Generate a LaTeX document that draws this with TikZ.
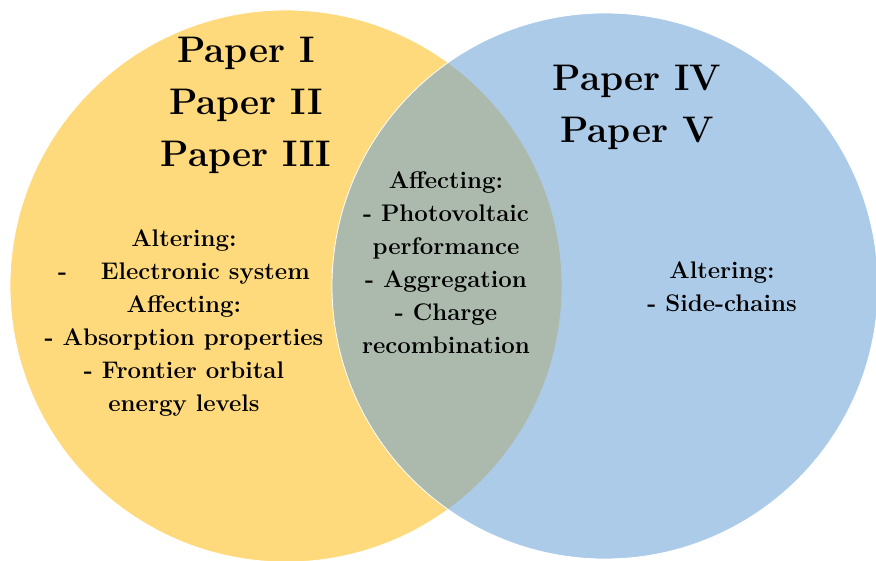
\documentclass[tikz,border=0pt]{standalone}
\usetikzlibrary{positioning}

\definecolor{paperyellow}{RGB}{255,218,125}
\definecolor{paperblue}{RGB}{104,160,213}

\begin{document}
\begin{tikzpicture}[x=1pt,y=-1pt,
    set/.style={circle,inner sep=0pt,minimum size=#1,draw=white,line width=0.8pt},
    title/.style={font=\bfseries\fontsize{37}{52}\selectfont,align=center,inner sep=0pt},
    body/.style={font=\bfseries\fontsize{24}{33}\selectfont,align=center,inner sep=0pt}]
  \useasboundingbox (0,0) rectangle (876,561);

  % the two sets, the blue one see-through so the overlap mixes
  \node[set=552pt,fill=paperyellow] (setA) at (286,286) {};
  \node[set=546pt,fill=paperblue,fill opacity=0.55] (setB) at (605,286) {};

  \node[title] (papersA) at (246,105) {Paper I\\Paper II\\Paper III};
  \node[title] (papersB) at (637,107) {Paper IV\\Paper V};

  \node[body] (textA) at (184,323) {Altering:\\-\hspace{1.4em}Electronic system\\Affecting:\\- Absorption properties\\- Frontier orbital\\energy levels};
  \node[body] (textAB) at (446,263) {Affecting:\\- Photovoltaic\\performance\\- Aggregation\\- Charge\\recombination};
  \node[body] (textB) at (722,287) {Altering:\\- Side-chains};
\end{tikzpicture}
\end{document}
